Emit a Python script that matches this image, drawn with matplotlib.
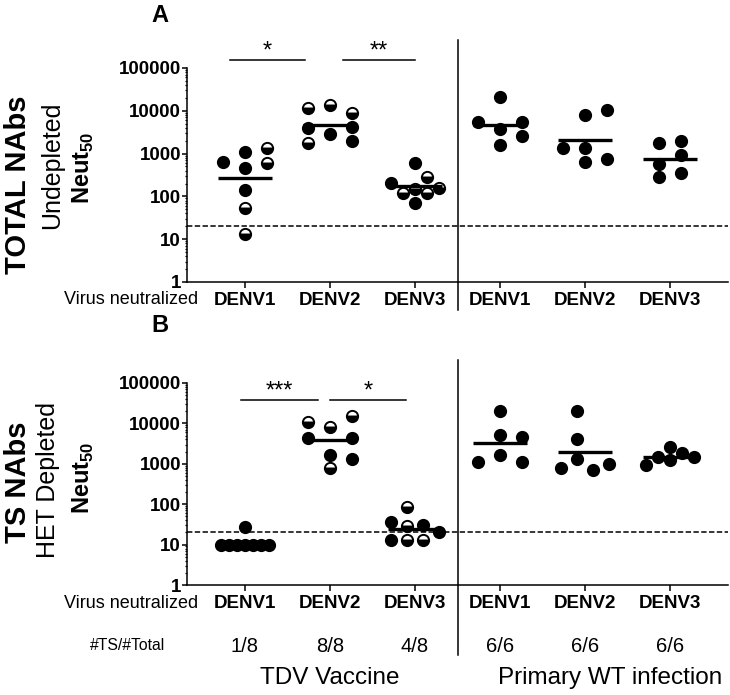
import numpy as np
import matplotlib
matplotlib.use("Agg")
import matplotlib.pyplot as plt
from matplotlib import transforms
from matplotlib.ticker import FixedLocator, LogLocator, NullFormatter

plt.rcParams['font.family'] = ['Liberation Sans', 'DejaVu Sans']
plt.rcParams['mathtext.fontset'] = 'custom'
plt.rcParams['mathtext.rm'] = 'Liberation Sans'
plt.rcParams['mathtext.bf'] = 'Liberation Sans:bold'

# ========== Data (Neut50 titres) ==========
viruses = ['DENV1', 'DENV2', 'DENV3', 'DENV1', 'DENV2', 'DENV3']
ts_ratio = ['1/8', '8/8', '4/8', '6/6', '6/6', '6/6']
y_ticks = [1, 10, 100, 1000, 10000, 100000]
lod = 20

# panel A - total NAbs, undepleted (half = half-filled symbol)
a_vac_denv1 = [13, 54, 141, 468, 1110, 613, 646, 1375]
a_vac_denv1_half = [1, 1, 0, 0, 0, 1, 0, 1]
a_vac_denv2 = [13600, 2830, 8700, 4260, 2000, 11400, 3900, 1800]
a_vac_denv2_half = [1, 0, 1, 0, 0, 1, 0, 1]
a_vac_denv3 = [71, 122, 122, 150, 155, 202, 288, 613]
a_vac_denv3_half = [0, 1, 1, 1, 1, 0, 1, 0]
a_wt_denv1 = [20600, 3760, 5380, 2620, 5560, 1590]
a_wt_denv2 = [7950, 1330, 748, 1330, 646, 10400]
a_wt_denv3 = [1740, 571, 288, 2000, 927, 358]

# panel B - TS NAbs, HET depleted
b_vac_denv1 = [28, 10, 10, 10, 10, 10, 10, 10]
b_vac_denv1_half = [0, 0, 0, 0, 0, 0, 0, 0]
b_vac_denv2 = [7960, 1650, 15200, 4420, 1290, 11000, 4420, 770]
b_vac_denv2_half = [1, 0, 1, 0, 0, 1, 0, 1]
b_vac_denv3 = [87, 13, 13, 13, 21, 29, 30.5, 37]
b_vac_denv3_half = [1, 1, 1, 0, 0, 1, 0, 0]
b_wt_denv1 = [20600, 1650, 5160, 4690, 1125, 1125]
b_wt_denv2 = [20300, 4110, 1290, 702, 800, 971]
b_wt_denv3 = [1240, 1820, 1500, 1500, 2560, 933]

a_groups = [(a_vac_denv1, a_vac_denv1_half), (a_vac_denv2, a_vac_denv2_half),
            (a_vac_denv3, a_vac_denv3_half), (a_wt_denv1, None),
            (a_wt_denv2, None), (a_wt_denv3, None)]
b_groups = [(b_vac_denv1, b_vac_denv1_half), (b_vac_denv2, b_vac_denv2_half),
            (b_vac_denv3, b_vac_denv3_half), (b_wt_denv1, None),
            (b_wt_denv2, None), (b_wt_denv3, None)]

W, H = 730, 695


def fx(px):
    return px / W


def fy(py):
    return 1 - py / H


def setup(ax):
    ax.set_yscale('log')
    ax.set_ylim(1, 1e5)
    ax.set_xlim(-0.68, 5.68)
    ax.spines[['top', 'right']].set_visible(False)
    for s in ('left', 'bottom'):
        ax.spines[s].set_linewidth(1.1)
    ax.yaxis.set_major_locator(FixedLocator(y_ticks))
    ax.set_yticklabels([str(t) for t in y_ticks], fontweight='bold', fontsize=13.5)
    ax.yaxis.set_minor_locator(LogLocator(base=10, subs=np.arange(2, 10)))
    ax.yaxis.set_minor_formatter(NullFormatter())
    ax.set_xticks(range(len(viruses)))
    ax.set_xticklabels(viruses, fontweight='bold', fontsize=13.5)
    ax.tick_params(axis='y', which='major', length=3.6, width=1.1, pad=0.8)
    ax.tick_params(axis='y', which='minor', length=1.8, width=0.9)
    ax.tick_params(axis='x', length=4.5, width=1.1, pad=2.5)
    ax.axhline(lod, color='k', lw=1.1, dashes=(3.5, 1.6), zorder=1, clip_on=False)


def swarm(ax, xc, values, sep=12.5, col=22, max_span=48):
    # column based beeswarm, done in pixel space
    pts = np.column_stack([np.full(len(values), xc, dtype=float), values])
    ypix = ax.transData.transform(pts)[:, 1]
    placed = []
    for y in ypix:
        for k in (0, 1, -1, 2, -2, 3, -3, 4, -4):
            if all(abs(y - py) >= sep for pk, py in placed if pk == k):
                break
        placed.append((k, y))
    ks = np.array([p[0] for p in placed], dtype=float)
    width = ks.max() - ks.min()
    step = col if width == 0 else min(col, max_span / width)
    ks = ks - (ks.max() + ks.min()) / 2
    px_unit = ax.transData.transform((1, 1))[0] - ax.transData.transform((0, 1))[0]
    return xc + ks * step / px_unit


def draw_groups(ax, groups):
    for i, (vals, half) in enumerate(groups):
        if half is None:
            half = [0] * len(vals)
        xs = swarm(ax, i, vals)
        for x, v, h in zip(xs, vals, half):
            ax.plot(x, v, 'o', ms=8.1, mfc='k', mec='k', mew=1.4,
                    fillstyle='bottom' if h else 'full', markerfacecoloralt='white',
                    zorder=3, clip_on=False)
        gm = 10 ** np.mean(np.log10(vals))
        ax.plot([i - 0.32, i + 0.32], [gm, gm], color='k', lw=2.4, zorder=4,
                solid_capstyle='butt')


def bracket(ax, x0, x1, y, label):
    ax.plot([x0, x1], [y, y], color='k', lw=1.1, clip_on=False)
    ax.annotate(label, xy=((x0 + x1) / 2, y), xytext=(0, 1.5), textcoords='offset points',
                ha='center', va='baseline', fontsize=17, annotation_clip=False)


def divider(ax, y0, y1):
    trans = transforms.blended_transform_factory(ax.transData, ax.transAxes)
    ax.plot([2.5, 2.5], [y0, y1], color='k', lw=1.1, transform=trans, clip_on=False)


fig = plt.figure(figsize=(W / 100, H / 100), dpi=100)
ax_a = fig.add_axes([fx(187), fy(282), fx(728) - fx(187), fy(68) - fy(282)])
ax_b = fig.add_axes([fx(187), fy(585), fx(728) - fx(187), fy(383) - fy(585)])

for ax in (ax_a, ax_b):
    setup(ax)

draw_groups(ax_a, a_groups)
draw_groups(ax_b, b_groups)

# significance brackets
bracket(ax_a, -0.18, 0.71, 1.54e5, '*')
bracket(ax_a, 1.15, 2.0, 1.54e5, '**')
bracket(ax_b, -0.04, 0.86, 3.8e4, '***')
bracket(ax_b, 1.0, 1.9, 3.8e4, '*')

divider(ax_a, 1.13, -0.13)
divider(ax_b, 1.114, -0.347)

# panel letters
fig.text(fx(160), fy(15), 'A', fontsize=17, fontweight='bold', ha='center', va='center')
fig.text(fx(160), fy(325), 'B', fontsize=17, fontweight='bold', ha='center', va='center')

# left side labels
fig.text(fx(18), fy(185), 'TOTAL NAbs', rotation=90, fontsize=21, fontweight='bold',
         ha='center', va='center')
fig.text(fx(52), fy(165), 'Undepleted', rotation=90, fontsize=18, ha='center', va='center')
fig.text(fx(83), fy(168), r'$\mathbf{Neut}_{\mathbf{50}}$', rotation=90, fontsize=17,
         ha='center', va='center')
fig.text(fx(18), fy(482), 'TS NAbs', rotation=90, fontsize=21, fontweight='bold',
         ha='center', va='center')
fig.text(fx(48), fy(480), 'HET Depleted', rotation=90, fontsize=18, ha='center', va='center')
fig.text(fx(83), fy(478), r'$\mathbf{Neut}_{\mathbf{50}}$', rotation=90, fontsize=17,
         ha='center', va='center')

# row labels
fig.text(fx(198), fy(300), 'Virus neutralized', fontsize=13, ha='right', va='center')
fig.text(fx(198), fy(604), 'Virus neutralized', fontsize=13, ha='right', va='center')
fig.text(fx(128), fy(646), '#TS/#Total', fontsize=11.3, ha='center', va='center')

tr_b = transforms.blended_transform_factory(ax_b.transData, fig.transFigure)
for i, r in enumerate(ts_ratio):
    ax_b.text(i, fy(646), r, fontsize=14.5, ha='center', va='center', transform=tr_b)

ax_b.text(1, fy(678), 'TDV Vaccine', fontsize=17.5, ha='center', va='center', transform=tr_b)
ax_b.text(4.3, fy(678), 'Primary WT infection', fontsize=17.5, ha='center', va='center',
          transform=tr_b)

fig.savefig('out.png', dpi=100)
